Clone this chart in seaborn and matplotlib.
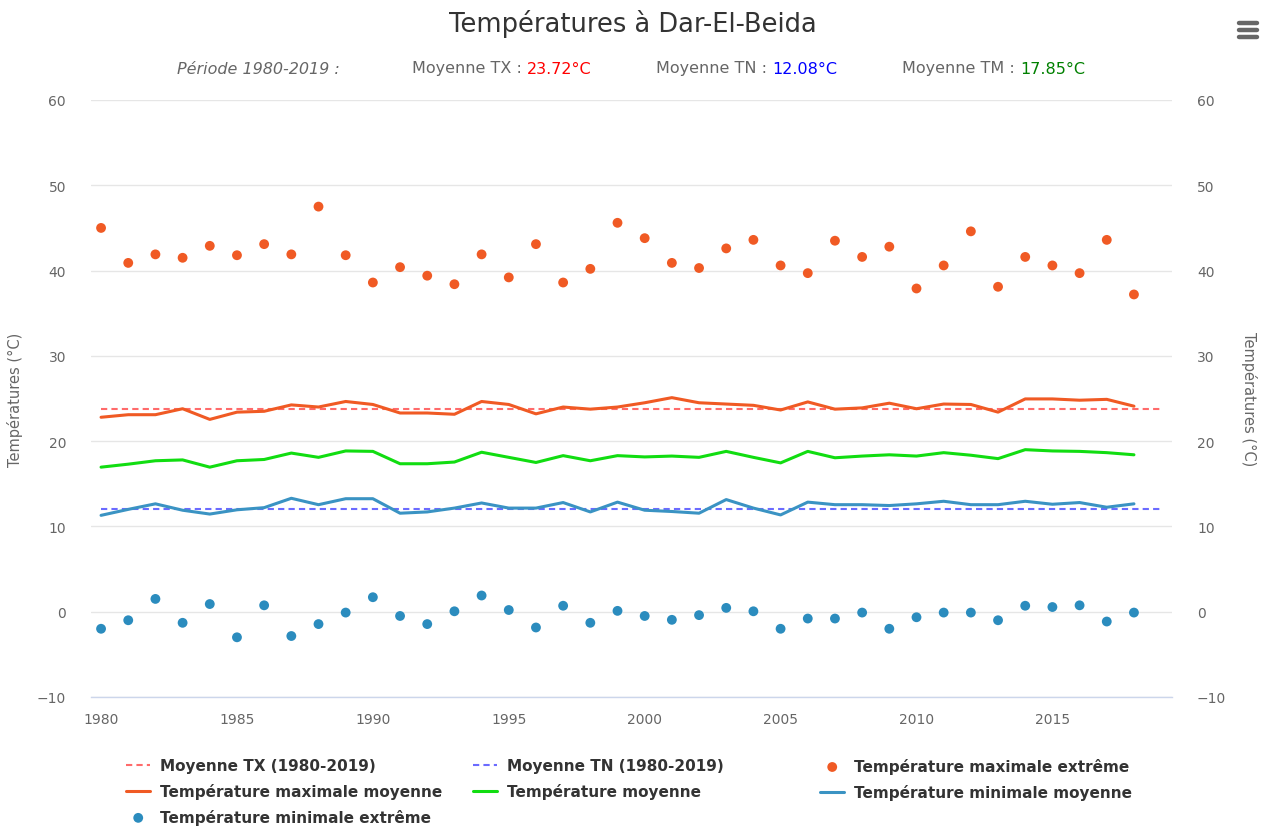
import numpy as np
import pandas as pd
import matplotlib
matplotlib.use("Agg")
import matplotlib.pyplot as plt
from matplotlib.lines import Line2D
import seaborn as sns

years = list(range(1980, 2019))
tx_extreme = [45.0, 40.9, 41.9, 41.5, 42.9, 41.8, 43.1, 41.9, 47.5, 41.8,
              38.6, 40.4, 39.4, 38.4, 41.9, 39.2, 43.1, 38.6, 40.2, 45.6,
              43.8, 40.9, 40.3, 42.6, 43.6, 40.6, 39.7, 43.5, 41.6, 42.8,
              37.9, 40.6, 44.6, 38.1, 41.6, 40.6, 39.7, 43.6, 37.2]
tx_mean = [22.8, 23.1, 23.1, 23.8, 22.55, 23.4, 23.5, 24.25, 24.0, 24.65,
           24.3, 23.3, 23.3, 23.15, 24.65, 24.3, 23.2, 24.0, 23.75, 24.0,
           24.5, 25.1, 24.5, 24.35, 24.2, 23.65, 24.6, 23.75, 23.9, 24.45,
           23.8, 24.35, 24.3, 23.4, 24.95, 24.95, 24.8, 24.9, 24.1]
tm_mean = [16.95, 17.3, 17.7, 17.8, 16.95, 17.7, 17.85, 18.6, 18.1, 18.85,
           18.8, 17.35, 17.35, 17.55, 18.7, 18.1, 17.5, 18.3, 17.7, 18.3,
           18.15, 18.25, 18.1, 18.8, 18.1, 17.45, 18.8, 18.05, 18.25, 18.4,
           18.25, 18.65, 18.35, 17.95, 19.0, 18.85, 18.8, 18.65, 18.4]
tn_mean = [11.3, 12.0, 12.65, 11.9, 11.45, 11.95, 12.2, 13.3, 12.55, 13.25,
           13.25, 11.55, 11.7, 12.15, 12.75, 12.15, 12.15, 12.8, 11.7, 12.85,
           11.9, 11.75, 11.55, 13.15, 12.15, 11.35, 12.85, 12.55, 12.55, 12.45,
           12.65, 12.95, 12.55, 12.55, 12.95, 12.6, 12.8, 12.25, 12.65]
tn_extreme = [-2.0, -1.0, 1.5, -1.3, 0.9, -3.0, 0.75, -2.85, -1.45, -0.1,
              1.7, -0.5, -1.45, 0.05, 1.9, 0.2, -1.85, 0.7, -1.3, 0.1,
              -0.5, -0.95, -0.4, 0.45, 0.05, -2.0, -0.8, -0.8, -0.1, -2.0,
              -0.65, -0.1, -0.1, -1.0, 0.7, 0.55, 0.75, -1.15, -0.1]
period_years = [1980, 2019]
moy_tx = 23.72
moy_tn = 12.08
moy_tm = 17.85
yticks = [-10, 0, 10, 20, 30, 40, 50, 60]
xticks = [1980, 1985, 1990, 1995, 2000, 2005, 2010, 2015]

df = pd.DataFrame({"year": years, "tx_ext": tx_extreme, "tx": tx_mean,
                   "tm": tm_mean, "tn": tn_mean, "tn_ext": tn_extreme})
df_ref = pd.DataFrame({"year": period_years, "tx": [moy_tx] * 2, "tn": [moy_tn] * 2})

sns.set_theme(style="white")
plt.rcParams['font.family'] = ['DejaVu Sans']

c_orange = "#f05a24"
c_green = "#11dd11"
c_blue = "#3a93c3"
c_dot_blue = "#2b8cbe"
c_red_dash = "#ff6b6b"
c_blue_dash = "#6b6bff"
grey = "#666666"

fig = plt.figure(figsize=(12.66, 8.28), dpi=100)
ax = fig.add_axes([91 / 1266, 1 - 698 / 828, (1172 - 91) / 1266, (698 - 101) / 828])

sns.lineplot(data=df_ref, x="year", y="tx", ax=ax, color=c_red_dash, lw=1.5,
             linestyle=(0, (3, 2)), label="Moyenne TX (1980-2019)")
sns.lineplot(data=df_ref, x="year", y="tn", ax=ax, color=c_blue_dash, lw=1.5,
             linestyle=(0, (3, 2)), label="Moyenne TN (1980-2019)")
sns.scatterplot(data=df, x="year", y="tx_ext", ax=ax, color=c_orange, s=50,
                edgecolor="none", label="Température maximale extrême", zorder=3)
sns.lineplot(data=df, x="year", y="tx", ax=ax, color=c_orange, lw=2.2,
             label="Température maximale moyenne")
sns.lineplot(data=df, x="year", y="tm", ax=ax, color=c_green, lw=2.2,
             label="Température moyenne")
sns.lineplot(data=df, x="year", y="tn", ax=ax, color=c_blue, lw=2.2,
             label="Température minimale moyenne")
sns.scatterplot(data=df, x="year", y="tn_ext", ax=ax, color=c_dot_blue, s=50,
                edgecolor="none", label="Température minimale extrême", zorder=3)

ax.set_xlim(1979.63, 2019.4)
ax.set_ylim(-10, 60)
ax.set_yticks(yticks)
ax.set_xticks(xticks)
ax.grid(axis="y", color="#e6e6e6", lw=1)
ax.grid(axis="x", visible=False)
for s in ["top", "right", "left"]:
    ax.spines[s].set_visible(False)
ax.spines["bottom"].set_color("#ccd6eb")
ax.spines["bottom"].set_linewidth(1)
ax.tick_params(axis="x", colors="#ccd6eb", labelcolor=grey, length=8, width=1,
               direction="out", labelsize=10, pad=3)
ax.tick_params(axis="y", length=0, labelcolor=grey, labelsize=10, pad=18)
ax.set_xlabel("")
ax.set_ylabel("Températures (°C)", color=grey, fontsize=10.5, labelpad=10)

ax2 = ax.twinx()
ax2.set_ylim(-10, 60)
ax2.set_yticks(yticks)
ax2.tick_params(axis="y", length=0, labelcolor=grey, labelsize=10, pad=18)
for s in ["top", "right", "left", "bottom"]:
    ax2.spines[s].set_visible(False)
ax2.set_ylabel("Températures (°C)", color=grey, fontsize=10.5, rotation=270, labelpad=22)

# legend: three manually placed columns (row-major order like the reference)
handles, labels = ax.get_legend_handles_labels()
ax.get_legend().remove()
columns = [([0, 3, 6], 126), ([1, 4], 473), ([2, 5], 820)]
for idx, xpix in columns:
    leg = fig.legend([handles[i] for i in idx], [labels[i] for i in idx],
                     loc="upper left", bbox_to_anchor=(xpix / 1266, 1 - 759 / 828),
                     ncol=1, frameon=False, fontsize=11, handlelength=1.6,
                     labelspacing=0.65, handletextpad=0.6, borderaxespad=0,
                     borderpad=0.0)
    for t in leg.get_texts():
        t.set_fontweight("bold")
        t.set_color("#333333")

# title
fig.text(0.5, 1 - 24 / 828, "Températures à Dar-El-Beida", ha="center", va="center",
         fontsize=18.5, color="#333333")

# subtitle pieces
sub_y = 1 - 69 / 828
fs_sub = 11.5
fig.text(177 / 1266, sub_y, "Période 1980-2019 :", ha="left", va="center",
         fontsize=fs_sub, style="italic", color=grey)
def pair(x, lab, val, col):
    t = fig.text(x / 1266, sub_y, lab, ha="left", va="center", fontsize=fs_sub, color=grey)
    fig.canvas.draw()
    bb = t.get_window_extent()
    fig.text(bb.x1 / 1266 + 5 / 1266, sub_y, val, ha="left", va="center", fontsize=fs_sub, color=col)
pair(412, "Moyenne TX :", f"{moy_tx:.2f}°C", "#ff0000")
pair(656, "Moyenne TN :", f"{moy_tn:.2f}°C", "#0000ff")
pair(902, "Moyenne TM :", f"{moy_tm:.2f}°C", "#008000")

# menu icon
for yy in [24, 31, 38]:
    fig.add_artist(Line2D([1239 / 1266, 1257 / 1266], [1 - yy / 828] * 2, color="#666666",
                          lw=3.2, solid_capstyle="round", transform=fig.transFigure))

fig.savefig("out.png", dpi=100)
